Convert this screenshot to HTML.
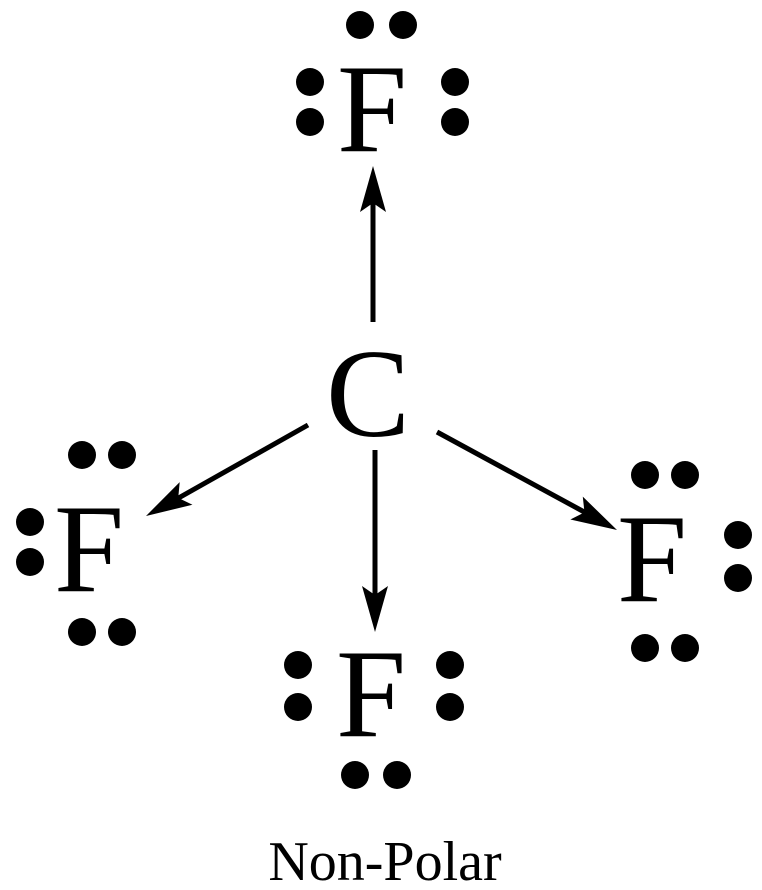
<!DOCTYPE html>
<html><head><style>body{margin:0;background:#fff}svg{display:block}</style></head><body>
<svg width="762" height="890" viewBox="0 0 762 890" xmlns="http://www.w3.org/2000/svg">
<g font-family="Liberation Serif, serif" fill="#000" text-anchor="middle">
<text x="372" y="151" font-size="126">F</text>
<text x="368" y="436" font-size="126">C</text>
<text x="89" y="591" font-size="126">F</text>
<text x="371" y="736" font-size="126">F</text>
<text x="652" y="601" font-size="126">F</text>
<text x="385" y="880" font-size="56">Non-Polar</text>
</g>
<g fill="#000">
<circle cx="360" cy="25" r="14"/><circle cx="403" cy="25" r="14"/>
<circle cx="310" cy="82" r="14"/><circle cx="310" cy="122" r="14"/>
<circle cx="455" cy="82" r="14"/><circle cx="455" cy="122" r="14"/>
<circle cx="82" cy="455" r="14"/><circle cx="122" cy="455" r="14"/>
<circle cx="30" cy="522" r="14"/><circle cx="30" cy="562" r="14"/>
<circle cx="82" cy="632" r="14"/><circle cx="122" cy="632" r="14"/>
<circle cx="298" cy="665" r="14"/><circle cx="298" cy="707" r="14"/>
<circle cx="450" cy="665" r="14"/><circle cx="450" cy="707" r="14"/>
<circle cx="355" cy="775" r="14"/><circle cx="397" cy="775" r="14"/>
<circle cx="645" cy="475" r="14"/><circle cx="685" cy="475" r="14"/>
<circle cx="738" cy="535" r="14"/><circle cx="738" cy="578" r="14"/>
<circle cx="645" cy="648" r="14"/><circle cx="685" cy="648" r="14"/>
</g>
<g stroke="#000" stroke-width="5" fill="none">
<line x1="373" y1="322" x2="373" y2="200"/>
<line x1="375" y1="450" x2="375" y2="600"/>
<line x1="308" y1="425" x2="175" y2="500"/>
<line x1="437" y1="432" x2="588" y2="514"/>
</g>
<g fill="#000">
<path d="M373,166 L386,212 L373,203 L360,212 z"/>
<path d="M375,632 L362,586 L375,595 L388,586 z"/>
<path transform="translate(146,516) rotate(150.6)" d="M0,0 L-46,-13 L-37,0 L-46,13 z"/>
<path transform="translate(617,530) rotate(28.5)" d="M0,0 L-46,-13 L-37,0 L-46,13 z"/>
</g>
</svg>
</body></html>
